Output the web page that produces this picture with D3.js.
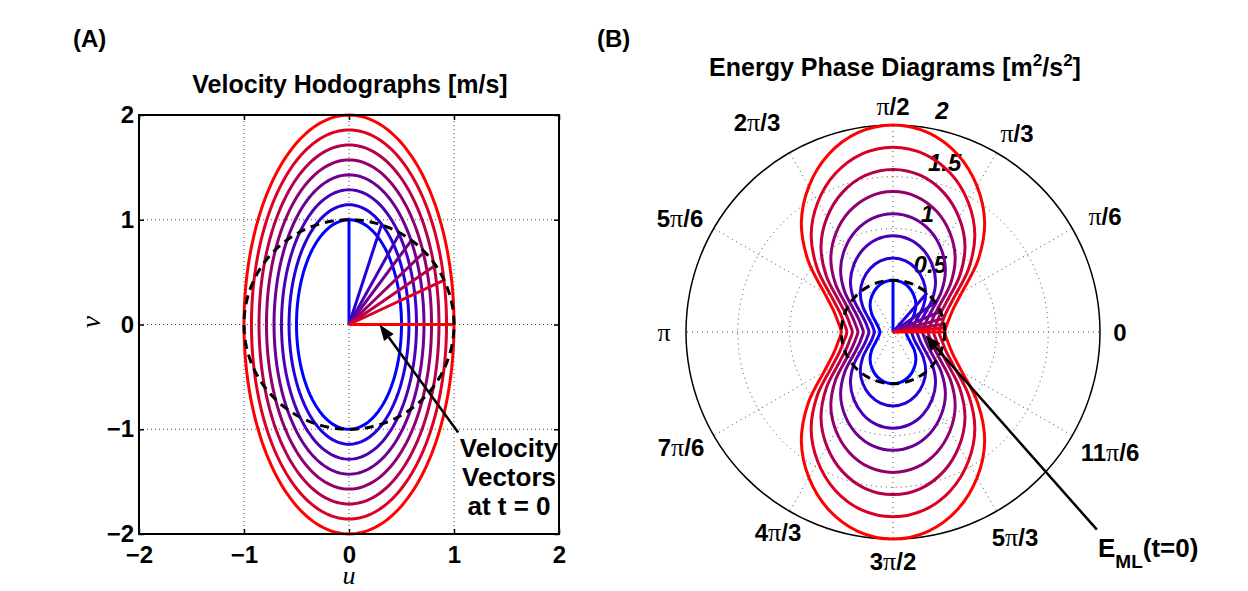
<!DOCTYPE html>
<html>
<head>
<meta charset="utf-8">
<script src="https://cdn.jsdelivr.net/npm/d3@7/dist/d3.min.js"></script>
<style>
  body { margin: 0; background: #fff; }
  text { font-family: "Liberation Sans", Arial, Helvetica, sans-serif; font-weight: bold; fill: #000; }
</style>
</head>
<body>
<div id="chart"></div>
<script>
// ---- data ----
const uTicks = [-2, -1, 0, 1, 2];
const vTicks = [-2, -1, 0, 1, 2];

// hodograph ellipses: u and v amplitudes [m/s], blue (inner) to red (outer)
const hodoU = [0.5, 0.571, 0.643, 0.714, 0.786, 0.857, 0.929, 1.0];
const hodoV = [1.0, 1.143, 1.286, 1.429, 1.571, 1.714, 1.857, 2.0];
// velocity vectors at t = 0 (direction in degrees, length 1)
const vectorAngles = [90, 72, 61, 53.5, 44, 34.5, 25, 0];

// energy phase curves: radius at phase 0 and at phase pi/2 [m2/s2]
const energySide = [0.125, 0.179, 0.232, 0.286, 0.339, 0.393, 0.446, 0.5];
const energyTop = [0.5, 0.714, 0.929, 1.143, 1.357, 1.571, 1.786, 2.0];
// shape of one quadrant: phase (deg) -> fraction of the way side..top
const profileDeg = [0, 10, 20, 30, 40, 50, 60, 70, 80, 90];
const profile = [0, 0.025, 0.075, 0.18, 0.38, 0.585, 0.75, 0.883, 0.97, 1];
// E_ML(t=0) vectors (direction in degrees, length 0.5)
const energyVectorAngles = [90, 49, 35, 23.5, 15, 9, 4.5, 0];

const radialTicks = [0.5, 1, 1.5, 2];
const angleLabels = ['0', 'π/6', 'π/3', 'π/2', '2π/3', '5π/6', 'π', '7π/6', '4π/3', '3π/2', '5π/3', '11π/6'];

const width = 1248;
const height = 591;
const colors = hodoU.map((d, i) => d3.interpolateRgb('#0000ff', '#ff0000')(i / (hodoU.length - 1)));
const serif = '"Liberation Serif", "Times New Roman", serif';

const svg = d3.select('#chart').append('svg')
    .attr('width', width)
    .attr('height', height);

svg.append('rect').attr('width', width).attr('height', height).attr('fill', '#fff');

// text with serif pi glyphs
function piText(sel, str) {
    str.split(/(π)/).forEach(part => {
        if (!part) return;
        const ts = sel.append('tspan').text(part);
        if (part === 'π') ts.style('font-family', serif).style('font-weight', 'normal').attr('font-size', 26);
    });
    return sel;
}

function arrow(g, x1, y1, x2, y2) {
    const ang = Math.atan2(y2 - y1, x2 - x1);
    const len = 16, half = 6;
    const bx = x2 - len * Math.cos(ang), by = y2 - len * Math.sin(ang);
    g.append('line')
        .attr('x1', x1).attr('y1', y1).attr('x2', bx).attr('y2', by)
        .attr('stroke', '#000').attr('stroke-width', 2.5);
    g.append('path')
        .attr('d', `M${x2},${y2}L${bx - half * Math.sin(ang)},${by + half * Math.cos(ang)}L${bx + half * Math.sin(ang)},${by - half * Math.cos(ang)}Z`)
        .attr('fill', '#000');
}

// ================= Panel A: velocity hodographs =================
const x = d3.scaleLinear().domain([-2, 2]).range([139, 559]);
const y = d3.scaleLinear().domain([-2, 2]).range([534, 115]);
const gA = svg.append('g');

// dotted grid
gA.append('g').selectAll('line.gx')
    .data(uTicks.slice(1, -1))
    .enter().append('line')
    .attr('x1', d => x(d)).attr('x2', d => x(d))
    .attr('y1', y(-2)).attr('y2', y(2))
    .attr('stroke', '#444').attr('stroke-width', 1).attr('stroke-dasharray', '1,3');
gA.append('g').selectAll('line.gy')
    .data(vTicks.slice(1, -1))
    .enter().append('line')
    .attr('y1', d => y(d)).attr('y2', d => y(d))
    .attr('x1', x(-2)).attr('x2', x(2))
    .attr('stroke', '#444').attr('stroke-width', 1).attr('stroke-dasharray', '1,3');

// axes
const tickFont = g => g.selectAll('text').attr('font-size', 24).attr('font-weight', 'bold')
    .attr('font-family', '"Liberation Sans", Arial, sans-serif').attr('fill', '#000');
gA.append('g').attr('transform', `translate(0,${y(-2)})`)
    .call(d3.axisBottom(x).tickValues(uTicks).tickSize(-5).tickPadding(12).tickFormat(d3.format('d')))
    .call(g => g.select('.domain').remove())
    .call(tickFont);
gA.append('g').attr('transform', `translate(${x(-2)},0)`)
    .call(d3.axisLeft(y).tickValues(vTicks).tickSize(-5).tickPadding(5).tickFormat(d3.format('d')))
    .call(g => g.select('.domain').remove())
    .call(tickFont);
gA.append('g').attr('transform', `translate(0,${y(2)})`)
    .call(d3.axisTop(x).tickValues(uTicks).tickSize(-5).tickFormat(''))
    .call(g => g.select('.domain').remove());
gA.append('g').attr('transform', `translate(${x(2)},0)`)
    .call(d3.axisRight(y).tickValues(vTicks).tickSize(-5).tickFormat(''))
    .call(g => g.select('.domain').remove());
gA.selectAll('.tick line').attr('stroke', '#000').attr('stroke-width', 1.5);

// ellipses
const tSteps = d3.range(0, 361, 2).map(d => d * Math.PI / 180);
const ellipse = (a, b) => d3.line()
    .x(t => x(a * Math.cos(t)))
    .y(t => y(b * Math.sin(t)))(tSteps);
gA.append('g').selectAll('path')
    .data(hodoU)
    .enter().append('path')
    .attr('d', (a, i) => ellipse(a, hodoV[i]))
    .attr('fill', 'none')
    .attr('stroke', (d, i) => colors[i])
    .attr('stroke-width', 3);

// velocity vectors
gA.append('g').selectAll('line')
    .data(vectorAngles)
    .enter().append('line')
    .attr('x1', x(0)).attr('y1', y(0))
    .attr('x2', d => x(Math.cos(d * Math.PI / 180)))
    .attr('y2', d => y(Math.sin(d * Math.PI / 180)))
    .attr('stroke', (d, i) => colors[i])
    .attr('stroke-width', 3);

// unit circle
gA.append('path')
    .attr('d', ellipse(1, 1))
    .attr('fill', 'none')
    .attr('stroke', '#000')
    .attr('stroke-width', 3)
    .attr('stroke-dasharray', '9,6');

// box
gA.append('rect')
    .attr('x', x(-2)).attr('y', y(2))
    .attr('width', x(2) - x(-2)).attr('height', y(-2) - y(2))
    .attr('fill', 'none').attr('stroke', '#000').attr('stroke-width', 2);

arrow(gA, x(1.04), y(-1.03), x(0.29), y(0));
const annA = gA.append('text').attr('text-anchor', 'middle').attr('font-size', 26);
['Velocity', 'Vectors', 'at t = 0'].forEach((s, i) => {
    annA.append('tspan').attr('x', 509).attr('y', 457 + i * 29).text(s);
});

gA.append('text').attr('x', 350).attr('y', 93).attr('text-anchor', 'middle')
    .attr('font-size', 25).text('Velocity Hodographs [m/s]');
gA.append('text').attr('x', 73).attr('y', 47).attr('font-size', 24).text('(A)');
gA.append('text').attr('x', 349).attr('y', 584).attr('text-anchor', 'middle')
    .attr('font-size', 26).attr('font-style', 'italic')
    .style('font-family', serif).style('font-weight', 'normal').text('u');
gA.append('text').attr('transform', 'translate(100,322) rotate(-90)').attr('text-anchor', 'middle')
    .attr('font-size', 27).attr('font-style', 'italic')
    .style('font-family', serif).style('font-weight', 'normal').text('v');

// ================= Panel B: energy phase diagrams =================
const cx = 893, cy = 332;
const r = d3.scaleLinear().domain([0, 2]).range([0, 207]);
const gB = svg.append('g').attr('transform', `translate(${cx},${cy})`);

// dotted rings and spokes
gB.append('g').selectAll('circle')
    .data(radialTicks.slice(0, -1))
    .enter().append('circle')
    .attr('r', d => r(d))
    .attr('fill', 'none').attr('stroke', '#444').attr('stroke-width', 1).attr('stroke-dasharray', '1,4');
gB.append('g').selectAll('line')
    .data(angleLabels.map((d, i) => i * Math.PI / 6))
    .enter().append('line')
    .attr('x1', 0).attr('y1', 0)
    .attr('x2', d => r(2) * Math.cos(d))
    .attr('y2', d => -r(2) * Math.sin(d))
    .attr('stroke', '#444').attr('stroke-width', 1).attr('stroke-dasharray', '1,4');
gB.append('circle').attr('r', r(2)).attr('fill', 'none').attr('stroke', '#000').attr('stroke-width', 1.5);

// angle labels, placed where the picture has them (offsets from the pole, px)
const labelOffsets = [[227, 0], [212, -116], [124, -199], [0, -226], [-136, -210], [-213, -114],
    [-229, 0], [-212, 115], [-115, 200], [0, 229], [122, 205], [217, 120]];
gB.append('g').selectAll('text')
    .data(angleLabels)
    .enter().append('text')
    .attr('text-anchor', 'middle')
    .attr('font-size', 24)
    .attr('x', (d, i) => labelOffsets[i][0])
    .attr('y', (d, i) => labelOffsets[i][1])
    .attr('dy', '0.36em')
    .each(function(d) { piText(d3.select(this), d); });

// radial tick labels at 82 degrees
const c82 = Math.cos(82 * Math.PI / 180), s82 = Math.sin(82 * Math.PI / 180);
gB.append('g').selectAll('text')
    .data(radialTicks)
    .enter().append('text')
    .attr('x', d => r(d + 0.025) * c82 + 13)
    .attr('y', d => -r(d + 0.025) * s82 - 5)
    .attr('font-size', 24).attr('font-style', 'italic')
    .text(d => d);

// energy curves: the quadrant profile mirrored round the full circle
const quadrants = [0, 90, 180, 270];
const curvePoints = (side, top) => {
    const pts = [];
    quadrants.forEach((q, k) => {
        const degs = k % 2 === 0 ? profileDeg.slice(0, -1) : profileDeg.slice().reverse().slice(0, -1);
        const vals = k % 2 === 0 ? profile.slice(0, -1) : profile.slice().reverse().slice(0, -1);
        degs.forEach((d, j) => {
            const th = (q + (k % 2 === 0 ? d : 90 - d)) * Math.PI / 180;
            pts.push({ th: th, r: side + (top - side) * vals[j] });
        });
    });
    return pts;
};
gB.append('g').selectAll('path')
    .data(energyTop)
    .enter().append('path')
    .attr('d', (top, i) => d3.lineRadial()
        .angle(p => Math.PI / 2 - p.th)
        .radius(p => r(p.r))
        .curve(d3.curveCatmullRomClosed.alpha(0.5))(curvePoints(energySide[i], top)))
    .attr('fill', 'none')
    .attr('stroke', (d, i) => colors[i])
    .attr('stroke-width', 3);

gB.append('g').selectAll('line')
    .data(energyVectorAngles)
    .enter().append('line')
    .attr('x1', 0).attr('y1', 0)
    .attr('x2', d => r(0.5) * Math.cos(d * Math.PI / 180))
    .attr('y2', d => -r(0.5) * Math.sin(d * Math.PI / 180))
    .attr('stroke', (d, i) => colors[i])
    .attr('stroke-width', 3);

gB.append('circle').attr('r', r(0.5))
    .attr('fill', 'none').attr('stroke', '#000').attr('stroke-width', 3).attr('stroke-dasharray', '9,6');

arrow(gB, r(1.97), r(1.91), r(0.31), r(0.03));

const emlLabel = svg.append('text').attr('x', 1098).attr('y', 557).attr('font-size', 26);
emlLabel.append('tspan').text('E');
emlLabel.append('tspan').attr('font-size', 19).attr('dy', 11).text('ML');
emlLabel.append('tspan').attr('dy', -11).text('(t=0)');

const titleB = svg.append('text').attr('x', 895).attr('y', 76).attr('text-anchor', 'middle').attr('font-size', 25);
titleB.append('tspan').text('Energy Phase Diagrams [m');
titleB.append('tspan').attr('font-size', 17).attr('dy', -10).text('2');
titleB.append('tspan').attr('dy', 10).text('/s');
titleB.append('tspan').attr('font-size', 17).attr('dy', -10).text('2');
titleB.append('tspan').attr('dy', 10).text(']');
svg.append('text').attr('x', 597).attr('y', 47).attr('font-size', 24).text('(B)');
</script>
</body>
</html>
